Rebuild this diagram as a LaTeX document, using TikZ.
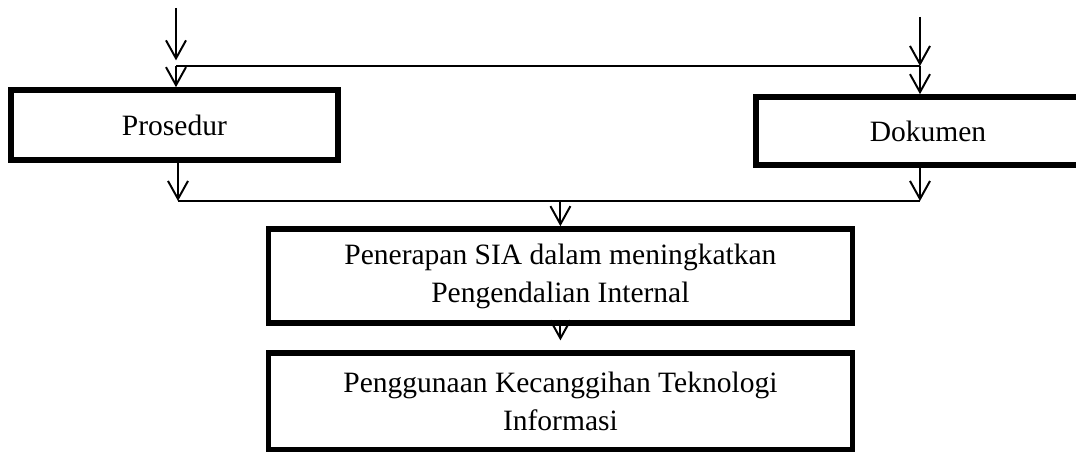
\documentclass[tikz,border=0pt]{standalone}
\usepackage{fontspec}
\setmainfont{Liberation Serif}
\usetikzlibrary{arrows.meta}

\begin{document}
\begin{tikzpicture}[
    kotak/.style={draw, line width=4pt, align=center, inner sep=0pt, font=\fontsize{21}{27}\selectfont},
    panah/.style={line width=1.4pt, -{Straight Barb[length=0.45cm,width=0.5cm]}},
    garis/.style={line width=1pt}]
    \useasboundingbox (0,0) rectangle (26.9,11.3);
    % kotak
    \node[kotak, minimum width=8.17cm, minimum height=1.75cm] (prosedur) at (4.36,8.175) {Prosedur};
    \node[kotak, minimum width=8.6cm, minimum height=1.7cm] (dokumen) at (23.2,8.025) {Dokumen};
    \node[kotak, minimum width=14.6cm, minimum height=2.35cm] (penerapan) at (14.01,4.4) {Penerapan SIA dalam meningkatkan\\Pengendalian Internal};
    \node[kotak, minimum width=14.6cm, minimum height=2.42cm] (penggunaan) at (14.01,1.26) {Penggunaan Kecanggihan Teknologi\\Informasi};
    % titik simpang
    \coordinate (kiriAtas) at (4.4,11.1);
    \coordinate (kananAtas) at (23.0,10.875);
    \coordinate (kiriSimpang) at (4.4,9.65);
    \coordinate (kananSimpang) at (23.0,9.65);
    \coordinate (kiriBawah) at (4.45,6.275);
    \coordinate (kananBawah) at (23.0,6.275);
    \coordinate (tengahBawah) at (14.01,6.275);
    % garis dan panah
    \draw[panah] (kiriAtas) -- ([yshift=4pt]kiriSimpang);
    \draw[panah] (kananAtas) -- (kananSimpang);
    \draw[garis] (kiriSimpang) -- (kananSimpang);
    \draw[panah] (kiriSimpang) -- (kiriSimpang |- prosedur.north);
    \draw[panah] (kananSimpang) -- (kananSimpang |- dokumen.north);
    \draw[panah] (kiriBawah |- prosedur.south) -- (kiriBawah);
    \draw[panah] (kananBawah |- dokumen.south) -- (kananBawah);
    \draw[garis] (kiriBawah) -- (kananBawah);
    \draw[panah] (tengahBawah) -- (penerapan.north);
    \draw[panah, shorten >=0.25cm] (penerapan.south) -- (penggunaan.north);
\end{tikzpicture}
\end{document}
